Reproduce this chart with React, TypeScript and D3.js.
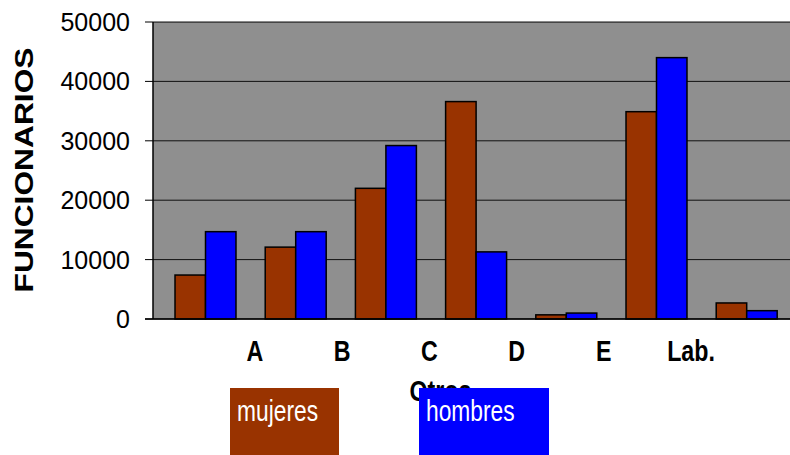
import React from "react";
import * as d3 from "d3";

const categories = ["A", "B", "C", "D", "E", "Lab.", "Otros"];
const series = ["mujeres", "hombres"];
const mujeres = [7400, 12100, 22000, 36600, 700, 34900, 2700];
const hombres = [14700, 14700, 29200, 11300, 1000, 44000, 1400];
const yTicks = [0, 10000, 20000, 30000, 40000, 50000];
const axisLabels = ["A", "B", "C", "D", "E", "Lab."];
const seriesColors = ["#993300", "#0000FF"];

const W = 790;
const H = 455;

export default function App() {
  const plotLeft = 153;
  const plotTop = 22;
  const plotBottom = 319;

  const y = d3.scaleLinear().domain([0, 50000]).range([plotBottom, plotTop]);
  const x = d3
    .scaleBand<string>()
    .domain(categories)
    .range([160.4, 791.8])
    .paddingInner(0.324)
    .paddingOuter(0.162);
  const xs = d3.scaleBand<string>().domain(series).range([0, x.bandwidth()]);
  const labelX = d3.scalePoint<string>().domain(axisLabels).range([255, 691]);

  const values = [mujeres, hombres];
  const font = "'Liberation Sans', Arial, sans-serif";

  const legendBoxes = [
    { x0: 230, x1: 339 },
    { x0: 419, x1: 549 },
  ];

  return (
    <div style={{ position: "absolute", left: 0, top: 0 }}>
      <svg width={W} height={H} style={{ display: "block", background: "#fff" }}>
        {/* plot area */}
        <rect x={plotLeft} y={plotTop} width={W - plotLeft} height={plotBottom - plotTop} fill="#8f8f8f" />
        <line x1={plotLeft} x2={W} y1={plotTop + 0.5} y2={plotTop + 0.5} stroke="#7a7a7a" strokeWidth={1} />
        {/* gridlines */}
        {yTicks.map((t) => (
          <line key={"g" + t} x1={plotLeft} x2={W} y1={y(t)} y2={y(t)} stroke="#111" strokeWidth={1} />
        ))}
        {/* y ticks */}
        {yTicks.map((t) => (
          <line key={"t" + t} x1={plotLeft - 8} x2={plotLeft} y1={y(t)} y2={y(t)} stroke="#000" strokeWidth={1} />
        ))}
        {yTicks.map((t) => (
          <text
            key={"l" + t}
            x={130}
            y={y(t) + 9}
            textAnchor="end"
            fontFamily={font}
            fontSize={25}
            fill="#000"
          >
            {t}
          </text>
        ))}
        {/* bars */}
        {categories.map((c, i) => (
          <g key={c}>
            {series.map((s, j) => {
              const v = values[j][i];
              const bx = (x(c) as number) + (xs(s) as number);
              return (
                <rect
                  key={s}
                  x={bx}
                  y={y(v)}
                  width={xs.bandwidth()}
                  height={y(0) - y(v)}
                  fill={seriesColors[j]}
                  stroke="#000"
                  strokeWidth={1.5}
                />
              );
            })}
          </g>
        ))}
        {/* axes */}
        <line x1={plotLeft} x2={plotLeft} y1={plotTop} y2={plotBottom} stroke="#000" strokeWidth={1.5} />
        <line x1={plotLeft - 8} x2={W} y1={plotBottom} y2={plotBottom} stroke="#000" strokeWidth={1.5} />
        {/* y title */}
        <text
          transform={`translate(33,170) rotate(-90)`}
          textAnchor="middle"
          fontFamily={font}
          fontWeight="bold"
          fontSize={25}
          textLength={245}
          lengthAdjust="spacingAndGlyphs"
          fill="#000"
        >
          FUNCIONARIOS
        </text>
        {/* x labels */}
        {axisLabels.map((l) => (
          <text
            key={l}
            transform={`translate(${labelX(l)},361) scale(0.8,1)`}
            textAnchor="middle"
            fontFamily={font}
            fontWeight="bold"
            fontSize={29}
            fill="#000"
          >
            {l}
          </text>
        ))}
        <text
          transform={`translate(${(labelX("C") as number) + 11},401) scale(0.8,1)`}
          textAnchor="middle"
          fontFamily={font}
          fontWeight="bold"
          fontSize={29}
          fill="#000"
        >
          Otros
        </text>
        {/* legend */}
        {series.map((s, j) => (
          <g key={"leg" + s}>
            <rect
              x={legendBoxes[j].x0}
              y={388}
              width={legendBoxes[j].x1 - legendBoxes[j].x0}
              height={H - 388}
              fill={seriesColors[j]}
            />
            <text
              transform={`translate(${legendBoxes[j].x0 + 7},421) scale(0.76,1)`}
              fontFamily={font}
              fontSize={30}
              fill="#fff"
            >
              {s}
            </text>
          </g>
        ))}
      </svg>
    </div>
  );
}
